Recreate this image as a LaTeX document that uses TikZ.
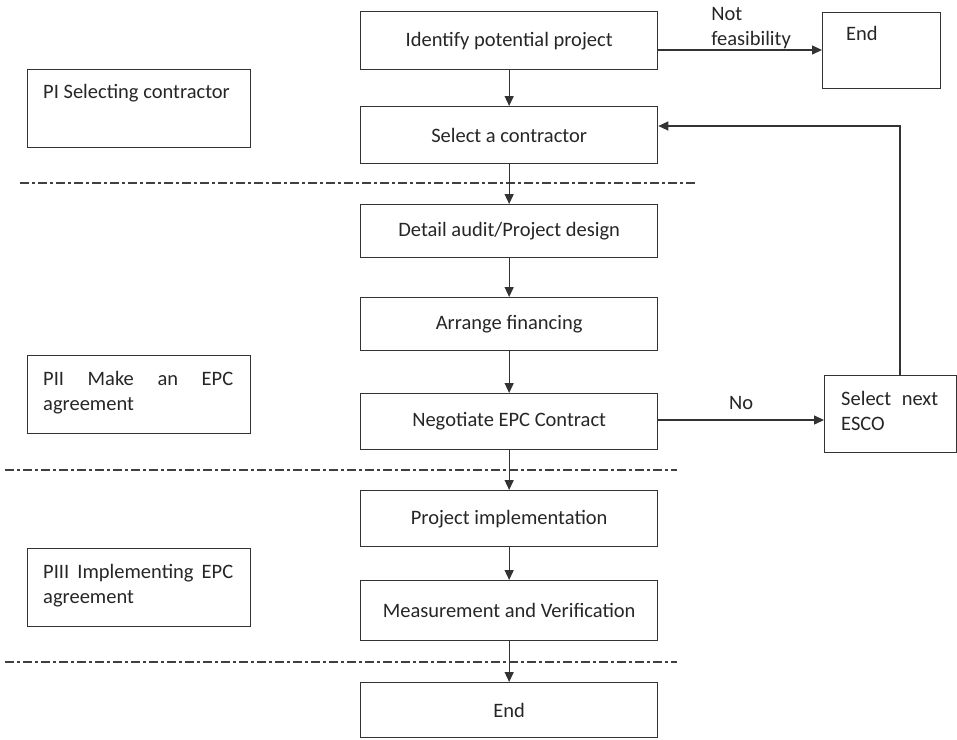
\documentclass[tikz,border=0pt]{standalone}
\usepackage{fontspec}
\setmainfont{Carlito}
\usetikzlibrary{arrows.meta}
\begin{document}
\begin{tikzpicture}[x=1pt,y=-1pt,
  font=\fontsize{20.5}{25}\selectfont,
  every node/.style={inner sep=0pt, text=black!85},
  box/.style={draw=black!80, line width=1.3pt, minimum width=297pt, anchor=north west},
  phase/.style={draw=black!80, line width=1.3pt, minimum width=223pt, minimum height=78pt, anchor=north west},
  phasetext/.style={anchor=north west, align=left},
  flow/.style={draw=black!80, line width=1.3pt, -{Triangle[length=10pt,width=9pt]}},
  divider/.style={draw=black!75, line width=1.3pt, dash pattern=on 9pt off 3pt on 3pt off 3pt}
]
\useasboundingbox (0,0) rectangle (957,739);

% main flow
\node[box, minimum height=58pt] (identify) at (360,11) {Identify potential project};
\node[box, minimum height=57pt] (select) at (360,106) {Select a contractor};
\node[box, minimum height=53pt] (audit) at (360,204) {Detail audit/Project design};
\node[box, minimum height=53pt] (finance) at (360,297) {Arrange financing};
\node[box, minimum height=56pt] (negotiate) at (360,393) {Negotiate EPC Contract};
\node[box, minimum height=56pt] (implement) at (360,490) {Project implementation};
\node[box, minimum height=60pt] (measure) at (360,580) {Measurement and Verification};
\node[box, minimum height=55pt] (finish) at (360,682) {End};

% side boxes
\node[draw=black!80, line width=1.3pt, minimum width=118pt, minimum height=76pt, anchor=north west] (endtop) at (822,12) {};
\node[anchor=north west] (endtoptext) at (846,26) {End};
\node[draw=black!80, line width=1.3pt, minimum width=132pt, minimum height=77pt, anchor=north west] (esco) at (824,375) {};
\node[anchor=north west, align=left] (escotext) at (841,391)
  {\hbox to 97pt{Select\hfill next}\\ESCO};

% phase boxes
\node[phase] (p1) at (27,69) {};
\node[phasetext] (p1text) at (43,84) {PI Selecting contractor};
\node[phase] (p2) at (27,355) {};
\node[phasetext] (p2text) at (43,371) {\hbox to 190pt{PII\hfill Make\hfill an\hfill EPC}\\agreement};
\node[phase] (p3) at (27,548) {};
\node[phasetext] (p3text) at (43,564) {\hbox to 190pt{PIII\hfill Implementing\hfill EPC}\\agreement};

% phase dividers
\coordinate (d1a) at (20,183);  \coordinate (d1b) at (695,183);
\coordinate (d2a) at (5,470);   \coordinate (d2b) at (677,470);
\coordinate (d3a) at (5,662);   \coordinate (d3b) at (677,662);
\draw[divider] (d1a) -- (d1b);
\draw[divider] (d2a) -- (d2b);
\draw[divider] (d3a) -- (d3b);

% connectors
\draw[flow] (identify) -- (select);
\draw[flow] (select) -- (audit);
\draw[flow] (audit) -- (finance);
\draw[flow] (finance) -- (negotiate);
\draw[flow] (negotiate) -- (implement);
\draw[flow] (implement) -- (measure);
\draw[flow] (measure) -- (finish);

\draw[flow] (identify.east |- 0,50) -- (endtop.west |- 0,50)
  node[pos=0.32, anchor=south west, yshift=1pt, align=left] (nf) {Not\\feasibility};
\draw[flow] (negotiate.east |- 0,420) -- (esco.west |- 0,420)
  node[midway, above, yshift=10pt] (no) {No};
\coordinate (loop) at (900,126);
\draw[flow] (esco.north -| loop) -- (loop) -- (select.east |- loop);
\end{tikzpicture}
\end{document}
